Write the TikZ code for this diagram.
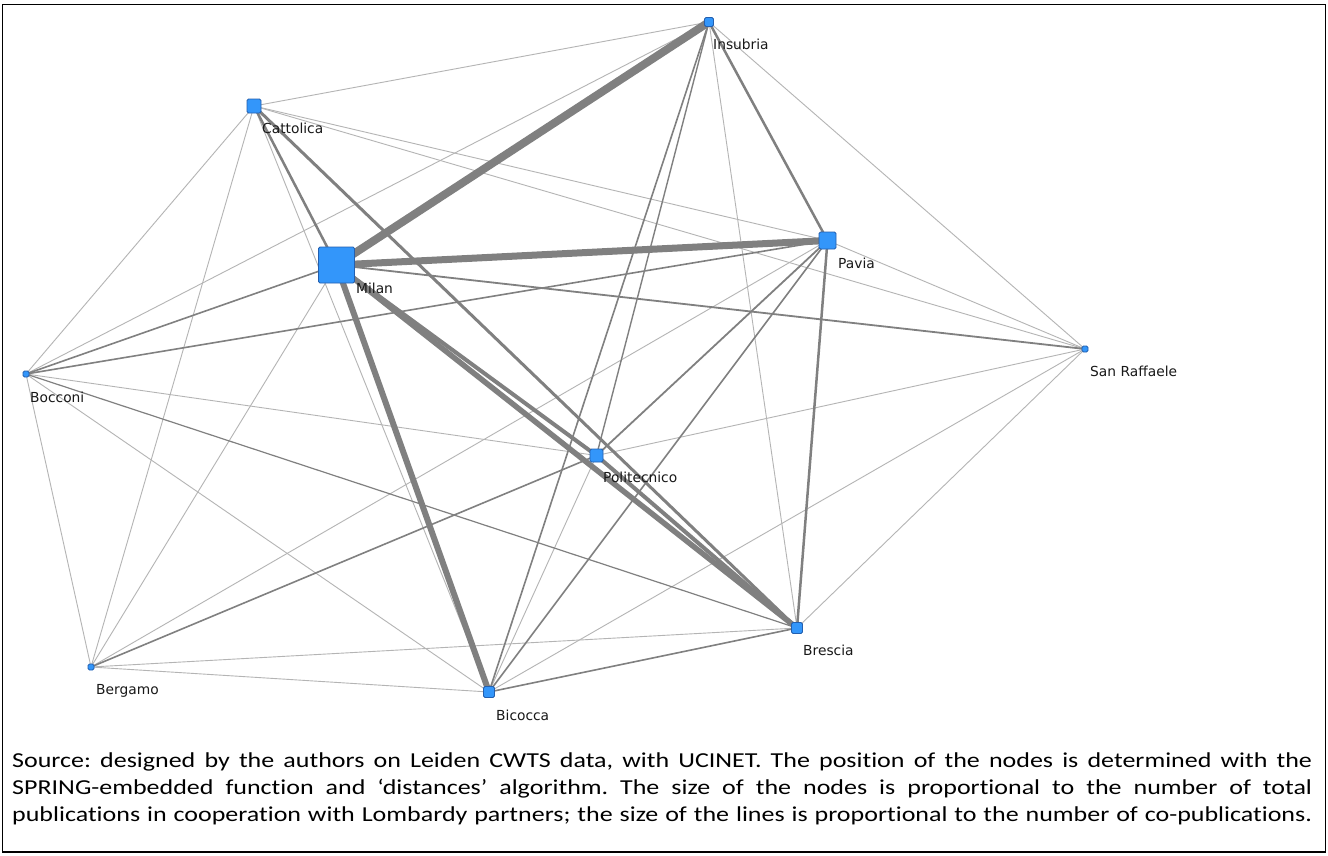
\documentclass[tikz,border=0pt]{standalone}
\usepackage{fontspec}
\setmainfont{Carlito}[FakeStretch=1.22, Ligatures=NoCommon]
\newfontfamily\lblfont{DejaVu Sans}
\usetikzlibrary{backgrounds}
\definecolor{nodefill}{RGB}{51,150,250}
\definecolor{nodeline}{RGB}{35,95,175}
\definecolor{edark}{RGB}{128,128,128}
\definecolor{elight}{RGB}{180,180,180}
\definecolor{lbltext}{RGB}{25,25,25}
\tikzset{
  uni/.style={draw=nodeline, fill=nodefill, rounded corners=1.5pt, minimum size=#1, inner sep=0pt, line width=0.9pt},
  lbl/.style={font=\lblfont\fontsize{13.8}{16}\selectfont, text=lbltext, anchor=west, inner sep=0pt},
  lt/.style={draw=elight, line width=0.9pt},
  dk/.style={draw=edark, line width=#1},
}
\begin{document}
\frenchspacing
\begin{tikzpicture}[x=1pt,y=-1pt]
\useasboundingbox (0,0) rectangle (1328,855);
% nodes
\node[uni=9pt]  (ins) at (709,22) {};
\node[uni=14pt] (cat) at (254,106) {};
\node[uni=36pt] (mil) at (336.5,265) {};
\node[uni=17pt] (pav) at (827.5,240.5) {};
\node[uni=6pt]  (sr)  at (1085,349) {};
\node[uni=6pt]  (boc) at (26,374) {};
\node[uni=13pt] (pol) at (596.5,455.5) {};
\node[uni=11pt] (bre) at (797,628) {};
\node[uni=6pt]  (ber) at (91,667) {};
\node[uni=11pt] (bic) at (489,692) {};
% labels
\node[lbl] (lins) at (713,44) {Insubria};
\node[lbl] (lcat) at (262,128) {Cattolica};
\node[lbl] (lmil) at (356,288) {Milan};
\node[lbl] (lpav) at (838,263) {Pavia};
\node[lbl] (lsr)  at (1090,371) {San Raffaele};
\node[lbl] (lboc) at (30,397) {Bocconi};
\node[lbl] (lpol) at (603,477) {Politecnico};
\node[lbl] (lbre) at (803,650) {Brescia};
\node[lbl] (lber) at (96,691) {Bergamo};
\node[lbl] (lbic) at (496,715) {Bicocca};
% edges
\begin{scope}[on background layer]
\fill[white] (0,0) rectangle (1328,855);
% light edges
\draw[lt] (mil.center) -- (ber.center);
\draw[lt] (cat.center) -- (ins.center);
\draw[lt] (cat.center) -- (pav.center);
\draw[lt] (cat.center) -- (sr.center);
\draw[lt] (cat.center) -- (bic.center);
\draw[lt] (cat.center) -- (boc.center);
\draw[lt] (cat.center) -- (ber.center);
\draw[lt] (ins.center) -- (sr.center);
\draw[lt] (ins.center) -- (bre.center);
\draw[lt] (ins.center) -- (boc.center);
\draw[lt] (pav.center) -- (sr.center);
\draw[lt] (pav.center) -- (ber.center);
\draw[lt] (sr.center) -- (pol.center);
\draw[lt] (sr.center) -- (bic.center);
\draw[lt] (sr.center) -- (bre.center);
\draw[lt] (pol.center) -- (boc.center);
\draw[lt] (pol.center) -- (bic.center);
\draw[lt] (bre.center) -- (ber.center);
\draw[lt] (bic.center) -- (boc.center);
\draw[lt] (bic.center) -- (ber.center);
\draw[lt] (boc.center) -- (ber.center);
% darker edges
\draw[dk=1.2pt] (bre.center) -- (boc.center);
\draw[dk=1.4pt] (ins.center) -- (pol.center);
\draw[dk=1.6pt] (ins.center) -- (bic.center);
\draw[dk=1.6pt] (bre.center) -- (bic.center);
\draw[dk=1.6pt] (pol.center) -- (ber.center);
\draw[dk=1.6pt] (pav.center) -- (bic.center);
\draw[dk=1.8pt] (pav.center) -- (pol.center);
\draw[dk=1.6pt] (pav.center) -- (boc.center);
\draw[dk=1.6pt] (mil.center) -- (boc.center);
\draw[dk=1.8pt] (mil.center) -- (sr.center);
\draw[dk=2.5pt] (pav.center) -- (bre.center);
\draw[dk=2.5pt] (ins.center) -- (pav.center);
\draw[dk=2.5pt] (mil.center) -- (cat.center);
\draw[dk=3pt] (cat.center) -- (bre.center);
\draw[dk=4pt] (pol.center) -- (bre.center);
\draw[dk=4pt] (mil.center) -- (pol.center);
\draw[dk=5.5pt] (mil.center) -- (bre.center);
\draw[dk=6pt] (mil.center) -- (bic.center);
\draw[dk=7pt] (mil.center) -- (pav.center);
\draw[dk=8pt] (mil.center) -- (ins.center);
\end{scope}
% frame
\draw[line width=1.5pt] (2.5,4.5) rectangle (1325.5,852);
% caption
\node[anchor=base west, text width=1300pt, align=justify, inner sep=0pt,
      font=\fontsize{21.3}{27}\selectfont] (cap) at (12,767)
{Source: designed by the authors on Leiden CWTS data, with UCINET. The position of the nodes is determined with the\linebreak
SPRING-embedded function and ‘distances’ algorithm. The size of the nodes is proportional to the number of total\linebreak
publications in cooperation with Lombardy partners; the size of the lines is proportional to the number of co-publications.\parfillskip=0pt\par};
\end{tikzpicture}
\end{document}
